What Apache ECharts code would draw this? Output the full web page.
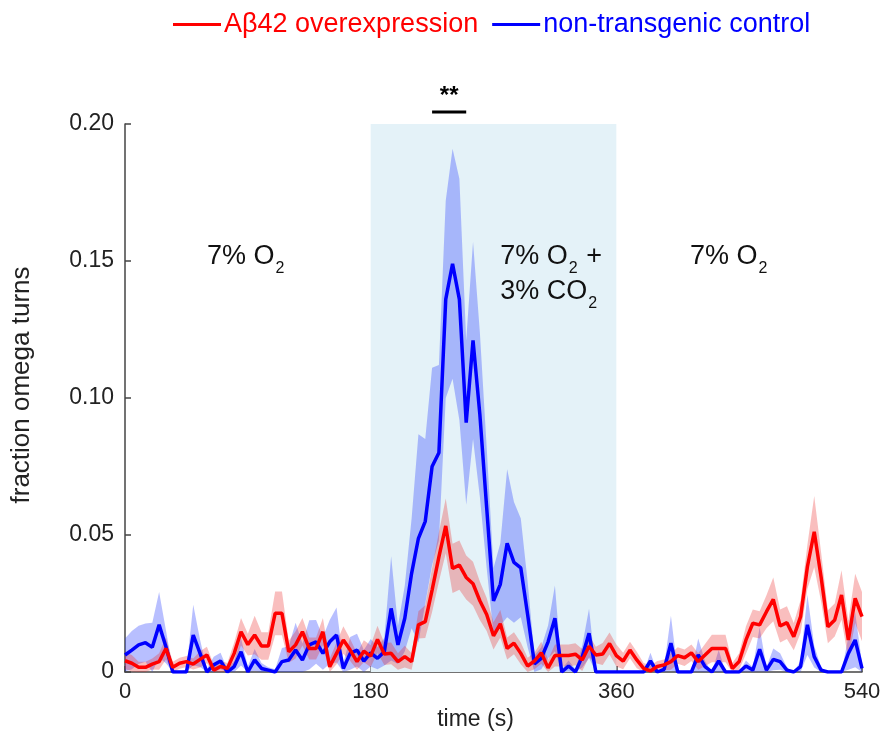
<!DOCTYPE html>
<html><head><meta charset="utf-8">
<script src="https://cdn.jsdelivr.net/npm/echarts@6/dist/echarts.min.js"></script>
<style>html,body{margin:0;padding:0;background:#fff}#c{width:890px;height:747px}</style>
</head><body><div id="c"></div>
<script>
const times = [0,5,10,15,20,25,30,35,40,45,50,55,60,65,70,75,80,85,90,95,100,105,110,115,120,125,130,135,140,145,150,155,160,165,170,175,180,185,190,195,200,205,210,215,220,225,230,235,240,245,250,255,260,265,270,275,280,285,290,295,300,305,310,315,320,325,330,335,340,345,350,355,360,365,370,375,380,385,390,395,400,405,410,415,420,425,430,435,440,445,450,455,460,465,470,475,480,485,490,495,500,505,510,515,520,525,530,535,540];

const redMean = [0.0041,0.0032,0.0017,0.0017,0.0029,0.0038,0.0086,0.0017,0.0032,0.0038,0.0029,0.0046,0.0062,0.0007,0.0020,0.0013,0.0068,0.0147,0.0100,0.0135,0.0095,0.0095,0.0214,0.0214,0.0074,0.0099,0.0147,0.0086,0.0086,0.0147,0.0019,0.0068,0.0117,0.0080,0.0038,0.0076,0.0058,0.0119,0.0066,0.0068,0.0038,0.0056,0.0038,0.0172,0.0184,0.0299,0.0420,0.0533,0.0378,0.0390,0.0345,0.0322,0.0260,0.0210,0.0132,0.0176,0.0086,0.0105,0.0068,0.0022,0.0040,0.0070,0.0015,0.0060,0.0060,0.0060,0.0065,0.0044,0.0094,0.0062,0.0066,0.0104,0.0060,0.0040,0.0080,0.0044,0.0013,0.0004,0.0020,0.0026,0.0038,0.0060,0.0052,0.0070,0.0038,0.0062,0.0086,0.0086,0.0086,0.0013,0.0038,0.0117,0.0178,0.0172,0.0220,0.0265,0.0168,0.0180,0.0129,0.0202,0.0384,0.0512,0.0348,0.0165,0.0190,0.0281,0.0117,0.0269,0.0202];

const redErr = [0.003,0.003,0.002,0.002,0.002,0.003,0.004,0.002,0.002,0.002,0.002,0.003,0.003,0.002,0.002,0.002,0.004,0.005,0.004,0.007,0.005,0.005,0.008,0.008,0.004,0.005,0.005,0.004,0.004,0.005,0.003,0.004,0.005,0.004,0.003,0.004,0.004,0.005,0.004,0.004,0.003,0.004,0.003,0.005,0.006,0.008,0.009,0.010,0.009,0.009,0.008,0.008,0.007,0.006,0.005,0.005,0.004,0.004,0.004,0.003,0.003,0.004,0.003,0.004,0.004,0.004,0.004,0.004,0.004,0.003,0.004,0.004,0.004,0.003,0.003,0.003,0.002,0.002,0.002,0.002,0.003,0.003,0.003,0.003,0.003,0.004,0.005,0.005,0.005,0.002,0.003,0.005,0.005,0.005,0.006,0.008,0.006,0.006,0.005,0.006,0.008,0.013,0.009,0.006,0.006,0.009,0.007,0.009,0.009];

const blueMean = [0.0062,0.0080,0.0099,0.0107,0.0090,0.0172,0.0092,0,0,0,0.0135,0.0068,0,0.0026,0.0040,0,0.0020,0.0074,0,0.0044,0.0013,0.0007,0,0.0038,0.0044,0.0080,0.0044,0.0099,0.0110,0.0068,0.0110,0.0135,0.0013,0.0068,0.0080,0.0040,0.0070,0.0050,0.0074,0.0232,0.0099,0.0196,0.0360,0.0488,0.0550,0.0750,0.0800,0.1360,0.1490,0.1360,0.0910,0.1210,0.0940,0.0600,0.0260,0.0320,0.0470,0.0400,0.0380,0.0210,0.0030,0.0050,0.0110,0.0196,0,0.0022,0,0.0056,0.0141,0,0,0,0,0,0,0,0,0.0040,0,0.0010,0.0105,0,0,0,0.0062,0.0020,0,0.0040,0,0,0,0.0022,0.0007,0.0083,0.0007,0.0046,0.0038,0.0007,0,0.0020,0.0172,0.0056,0.0007,0,0,0,0.0068,0.0117,0.0013];

const blueErr = [0.006,0.007,0.007,0.007,0.009,0.012,0.006,0.001,0,0.001,0.011,0.005,0.001,0.003,0.003,0.001,0.002,0.005,0.002,0.004,0.002,0.001,0.001,0.005,0.005,0.010,0.006,0.009,0.008,0.006,0.008,0.010,0.002,0.006,0.006,0.004,0.005,0.004,0.005,0.019,0.007,0.012,0.020,0.038,0.030,0.036,0.032,0.036,0.042,0.044,0.030,0.036,0.030,0.022,0.012,0.015,0.027,0.022,0.018,0.012,0.003,0.004,0.006,0.012,0.001,0.002,0.001,0.004,0.009,0,0,0,0,0,0,0,0,0.003,0,0.001,0.010,0,0,0,0.006,0.002,0,0.004,0,0,0,0.002,0.001,0.008,0.001,0.004,0.003,0.001,0,0.002,0.011,0.004,0.001,0,0,0,0.006,0.010,0.002];

const xTicks = [0, 180, 360, 540];
const yTicks = [0, 0.05, 0.10, 0.15, 0.20];
const stimulus = [180, 360];
const legendNames = ['A\u03b242 overexpression', 'non-transgenic control'];

const FONT = '"Liberation Sans", Arial, Helvetica, sans-serif';

function pairs(arr) { return times.map((t, i) => [t, arr[i]]); }

// error band drawn as one polygon through the axis scales
function bandSeries(name, mean, err, fill, z) {
  return {
    name: name, type: 'custom', z: z, silent: true,
    data: [[times[0], 0]],
    encode: { x: 0, y: 1 },
    renderItem: function (params, api) {
      const up = [], lo = [];
      for (let i = 0; i < times.length; i++) {
        up.push(api.coord([times[i], mean[i] + err[i]]));
        lo.push(api.coord([times[i], Math.max(0, mean[i] - err[i])]));
      }
      const pts = up.concat(lo.reverse());
      return { type: 'polygon', shape: { points: pts }, style: { fill: fill } };
    }
  };
}

const chart = echarts.init(document.getElementById('c'), null, { renderer: 'canvas' });

const option = {
  animation: false,
  backgroundColor: '#ffffff',
  textStyle: { fontFamily: FONT },
  grid: { left: 125, right: 28, top: 124, bottom: 75, containLabel: false },
  legend: {
    data: [
      { name: legendNames[0], textStyle: { color: '#ff0000' } },
      { name: legendNames[1], textStyle: { color: '#0000ff' } }
    ],
    left: 168, top: 6,
    icon: 'rect', itemWidth: 48, itemHeight: 3, itemGap: 14,
    textStyle: { fontSize: 27, fontFamily: FONT, padding: [0, 0, 0, -2] }
  },
  xAxis: {
    type: 'value', min: xTicks[0], max: xTicks[xTicks.length - 1], interval: 180,
    name: 'time (s)', nameLocation: 'middle', nameGap: 32,
    nameTextStyle: { fontSize: 23, color: '#222', fontFamily: FONT, padding: [0, 36, 0, 0] },
    axisLine: { show: true, lineStyle: { color: '#444', width: 1.5 } },
    axisTick: { show: true, inside: true, length: 6, lineStyle: { color: '#444', width: 1.5 } },
    axisLabel: { fontSize: 22, color: '#222', margin: 9, fontFamily: FONT },
    splitLine: { show: false }
  },
  yAxis: {
    type: 'value', min: yTicks[0], max: yTicks[yTicks.length - 1], interval: 0.05,
    name: 'fraction omega turns', nameLocation: 'middle', nameGap: 90, nameRotate: 90,
    nameTextStyle: { fontSize: 26, color: '#222', fontFamily: FONT, padding: [0, 0, 0, 26] },
    axisLine: { show: true, lineStyle: { color: '#444', width: 1.5 } },
    axisTick: { show: true, inside: true, length: 6, lineStyle: { color: '#444', width: 1.5 } },
    axisLabel: { fontSize: 23, color: '#222', margin: 11, fontFamily: FONT,
      formatter: v => (v === 0 ? '0' : v.toFixed(2)) },
    splitLine: { show: false }
  },
  series: [
    { name: 'bg', type: 'line', data: [], z: 0, silent: true,
      markArea: { silent: true, itemStyle: { color: '#e4f2f8' },
        data: [[{ xAxis: stimulus[0], yAxis: yTicks[0] }, { xAxis: stimulus[1], yAxis: yTicks[yTicks.length - 1] }]] } },
    bandSeries('blueBand', blueMean, blueErr, 'rgba(40,60,255,0.33)', 1),
    bandSeries('redBand', redMean, redErr, 'rgba(235,40,40,0.30)', 2),
    { name: legendNames[1], type: 'line', data: pairs(blueMean), symbol: 'none', z: 3,
      lineStyle: { color: '#0000ff', width: 3.5 }, itemStyle: { color: '#0000ff' } },
    { name: legendNames[0], type: 'line', data: pairs(redMean), symbol: 'none', z: 4,
      lineStyle: { color: '#ff0000', width: 3.5 }, itemStyle: { color: '#ff0000' } }
  ]
};
chart.setOption(option);

// annotations anchored in data coordinates (left edge of text), with real subscripts
const annot = [
  { t: 60, v: 0.1516, parts: [['7% O', 0], ['2', 1]] },
  { t: 275, v: 0.1516, parts: [['7% O', 0], ['2', 1], [' +', 0]] },
  { t: 275, v: 0.1390, parts: [['3% CO', 0], ['2', 1]] },
  { t: 414, v: 0.1516, parts: [['7% O', 0], ['2', 1]] }
];
const MAIN = '27px ' + FONT, SUB = '16px ' + FONT;
const mctx = document.createElement('canvas').getContext('2d');
function measure(txt, font) { mctx.font = font; return mctx.measureText(txt).width; }
const graphics = [];
annot.forEach(a => {
  const p = chart.convertToPixel({ gridIndex: 0 }, [a.t, a.v]);
  let x = p[0];
  a.parts.forEach(part => {
    const isSub = part[1] === 1;
    const font = isSub ? SUB : MAIN;
    if (isSub) x += 1;
    graphics.push({ type: 'text', z: 10, x: x, y: p[1] + (isSub ? 12 : 0),
      style: { text: part[0], font: font, fill: '#111', align: 'left', verticalAlign: 'middle' } });
    x += measure(part[0], font) + (isSub ? 1 : 0);
  });
});
const sigStart = 225, sigEnd = 250;
const p1 = chart.convertToPixel({ gridIndex: 0 }, [sigStart, 0.2044]);
const p2 = chart.convertToPixel({ gridIndex: 0 }, [sigEnd, 0.2044]);
graphics.push({ type: 'line', z: 10, shape: { x1: p1[0], y1: p1[1], x2: p2[0], y2: p2[1] }, style: { stroke: '#000', lineWidth: 3 } });
graphics.push({ type: 'text', z: 10, x: (p1[0] + p2[0]) / 2, y: p1[1] - 4,
  style: { text: '**', font: 'bold 24px ' + FONT, fill: '#000', align: 'center', verticalAlign: 'bottom' } });
chart.setOption({ graphic: graphics });
</script>
</body></html>
